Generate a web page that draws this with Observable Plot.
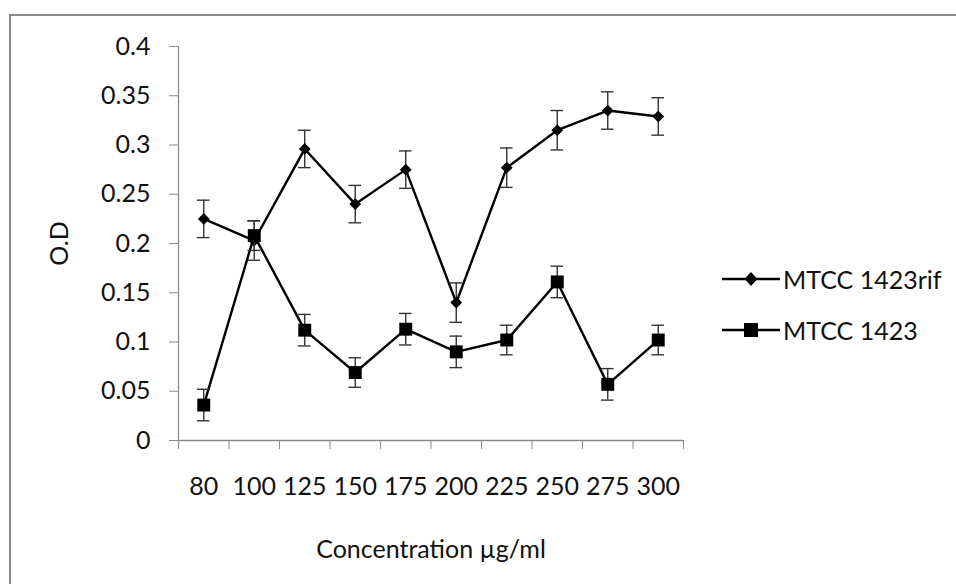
<!DOCTYPE html>
<html><head><meta charset="utf-8">
<script src="https://cdn.jsdelivr.net/npm/d3@7"></script>
<script src="https://cdn.jsdelivr.net/npm/@observablehq/plot@0.6"></script>
<style>
html,body{margin:0;padding:0;background:#fff;}
#wrap{position:relative;width:956px;height:584px;overflow:hidden;font-family:Lato,"Open Sans",sans-serif;}
#frame{position:absolute;left:9px;top:14px;right:-5px;bottom:-5px;border-top:2px solid #8a8a8a;border-left:2px solid #8a8a8a;}
#chart{position:absolute;left:0;top:0;}
#legend{position:absolute;left:722px;top:262px;font-size:25px;color:#111;}
.li{display:flex;align-items:center;height:34px;margin-bottom:17px;}
.li svg{margin-right:3px;}
</style></head>
<body><div id="wrap"><div id="frame"></div><div id="chart"></div><div id="legend"></div></div>
<script>
const categories = ["80","100","125","150","175","200","225","250","275","300"];
const seriesNames = ["MTCC 1423rif","MTCC 1423"];
const rifValues = [0.225,0.203,0.296,0.240,0.275,0.140,0.277,0.315,0.335,0.329];
const rifErrors = [0.019,0.020,0.019,0.019,0.019,0.020,0.020,0.020,0.019,0.019];
const wtValues  = [0.036,0.208,0.112,0.069,0.113,0.090,0.102,0.161,0.057,0.102];
const wtErrors  = [0.016,0.015,0.016,0.015,0.016,0.016,0.015,0.016,0.016,0.015];
const yTicks = [0,0.05,0.1,0.15,0.2,0.25,0.3,0.35,0.4];
const xLabel = "Concentration µg/ml";
const yLabel = "O.D";

const rows = [];
[[rifValues,rifErrors,seriesNames[0]],[wtValues,wtErrors,seriesNames[1]]].forEach(([vals,errs,name])=>{
  vals.forEach((v,i)=>rows.push({series:name,i,cat:categories[i],v,e:errs[i]}));
});
const rif = rows.filter(d=>d.series===seriesNames[0]);
const wt = rows.filter(d=>d.series===seriesNames[1]);
const cx = d => d.i + 0.5;
const capHalf = 0.125;
const axisGray = "#8a8a8a";
const ink = "#111";

function errMarks(data){
  return [
    Plot.ruleX(data,{x:cx,y1:d=>d.v-d.e,y2:d=>d.v+d.e,stroke:"#333",strokeWidth:1.4}),
    Plot.ruleY(data,{y:d=>d.v+d.e,x1:d=>cx(d)-capHalf,x2:d=>cx(d)+capHalf,stroke:"#333",strokeWidth:1.4}),
    Plot.ruleY(data,{y:d=>d.v-d.e,x1:d=>cx(d)-capHalf,x2:d=>cx(d)+capHalf,stroke:"#333",strokeWidth:1.4})
  ];
}

const chart = Plot.plot({
  width:956,height:584,
  marginLeft:178,marginRight:273,marginTop:46,marginBottom:144,
  style:{fontFamily:"Lato, 'Open Sans', sans-serif",fontSize:"25px",color:ink,background:"transparent",overflow:"visible"},
  x:{type:"linear",domain:[0,categories.length]},
  y:{domain:[0,0.4]},
  marks:[
    Plot.axisY({ticks:yTicks,tickSize:9,tickPadding:19,stroke:axisGray,tickFormat:d=>String(+d.toFixed(2)),
      label:yLabel,labelAnchor:"center",labelOffset:128,labelArrow:"none",fill:ink}),
    Plot.axisX({ticks:d3.range(0,categories.length+1),tickSize:9,tickFormat:()=>"",stroke:axisGray,label:null}),
    Plot.axisX({ticks:categories.map((c,i)=>i+0.5),tickSize:0,tickPadding:37,tickFormat:(d)=>categories[Math.round(d-0.5)],
      label:xLabel,labelAnchor:"center",labelOffset:117,labelArrow:"none",fill:ink}),
    Plot.ruleX([0],{y1:0,y2:0.4,stroke:axisGray,strokeWidth:1.3}),
    Plot.ruleY([0],{x1:0,x2:categories.length,stroke:axisGray,strokeWidth:1.3}),
    Plot.line(rif,{x:cx,y:"v",stroke:"#000",strokeWidth:2.4}),
    ...errMarks(rif),
    Plot.dot(rif,{x:cx,y:"v",symbol:"diamond2",r:5.3,fill:"#000",stroke:"none"}),
    Plot.line(wt,{x:cx,y:"v",stroke:"#000",strokeWidth:2.4}),
    ...errMarks(wt),
    Plot.dot(wt,{x:cx,y:"v",symbol:"square",r:7.3,fill:"#000",stroke:"none"})
  ]
});
document.getElementById("chart").appendChild(chart);

const legend = document.getElementById("legend");
const shapes = [
  '<polygon points="29,10 35.5,17 29,24 22.5,17" fill="#000"/>',
  '<rect x="22" y="10" width="14" height="14" fill="#000"/>'
];
seriesNames.forEach((n,k)=>{
  const div=document.createElement("div");div.className="li";
  div.innerHTML='<svg width="58" height="34"><line x1="0" y1="17" x2="58" y2="17" stroke="#000" stroke-width="2.4"/>'+shapes[k]+'</svg><span>'+n+'</span>';
  legend.appendChild(div);
});
</script></body></html>
